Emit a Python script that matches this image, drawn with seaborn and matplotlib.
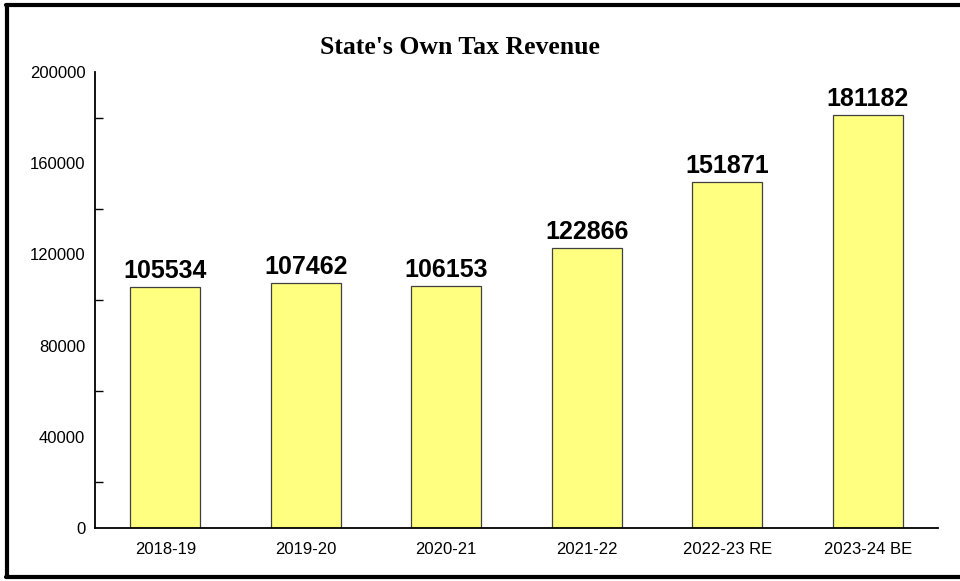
import matplotlib
matplotlib.use("Agg")
import matplotlib.pyplot as plt
import seaborn as sns
import pandas as pd
from matplotlib.lines import Line2D
from matplotlib.ticker import MultipleLocator

years = ["2018-19", "2019-20", "2020-21", "2021-22", "2022-23 RE", "2023-24 BE"]
revenue = [105534, 107462, 106153, 122866, 151871, 181182]
title = "State's Own Tax Revenue"

sns.set_style("white")
plt.rcParams['font.family'] = ['Liberation Sans', 'DejaVu Sans']
plt.rcParams['text.color'] = 'black'
plt.rcParams['xtick.color'] = 'black'
plt.rcParams['ytick.color'] = 'black'

df = pd.DataFrame({"year": years, "revenue": revenue})

W, H = 960, 581
fig = plt.figure(figsize=(W / 100, H / 100), dpi=100)
ax = fig.add_axes([95 / W, 1 - 528 / H, (938 - 95) / W, (528 - 72) / H])

sns.barplot(data=df, x="year", y="revenue", color="#FFFF80", width=0.5,
            edgecolor="#404040", linewidth=0.9, saturation=1, ax=ax)

ax.set_xlim(-0.5, len(years) - 0.5)
ax.set_ylim(0, 200000)
ax.yaxis.set_major_locator(MultipleLocator(40000))
ax.yaxis.set_minor_locator(MultipleLocator(20000))
ax.tick_params(axis="y", which="major", left=True, length=0, labelsize=12, pad=7, labelcolor="black")
ax.tick_params(axis="y", which="minor", left=True, length=6, direction="in", width=1.0, color="black")
ax.tick_params(axis="x", bottom=False, length=0, labelsize=12, pad=10, labelcolor="black")
ax.set_xlabel("")
ax.set_ylabel("")
for s in ["top", "right"]:
    ax.spines[s].set_visible(False)
for s in ["left", "bottom"]:
    ax.spines[s].set_color("black")
    ax.spines[s].set_linewidth(1.3)

for i, v in enumerate(revenue):
    ax.annotate(str(v), (i, v), xytext=(0, 6.5), textcoords="offset points",
                ha="center", va="baseline", fontsize=18, fontweight="bold", color="black")

fig.text(320 / W, 1 - 54 / H, title, ha="left", va="baseline",
         fontsize=18.5, fontweight="bold", color="black",
         family=["Liberation Serif", "DejaVu Serif"])

# figure frame
lw = 3
fig.add_artist(Line2D([7 / W, 7 / W], [1 - 4.5 / H, 1 - 577 / H], transform=fig.transFigure, color="black", lw=lw))
fig.add_artist(Line2D([5.5 / W, 1.0], [1 - 4.5 / H, 1 - 4.5 / H], transform=fig.transFigure, color="black", lw=lw))
fig.add_artist(Line2D([5.5 / W, 1.0], [1 - 577 / H, 1 - 577 / H], transform=fig.transFigure, color="black", lw=lw))

fig.savefig("out.png", dpi=100)
